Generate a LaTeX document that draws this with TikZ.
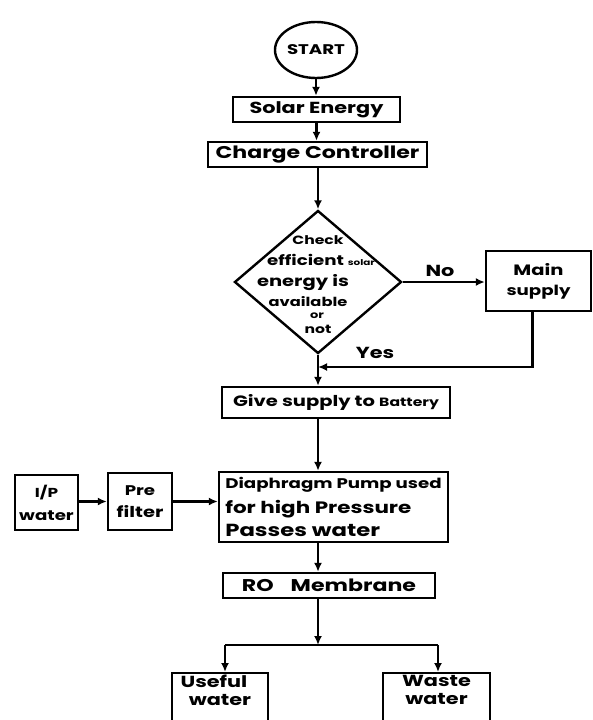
\documentclass[tikz,border=0pt]{standalone}
\usepackage{fontspec}
\setmainfont{Poppins}[FakeStretch=1.3]
\usetikzlibrary{shapes.geometric,arrows.meta}
\newcommand{\fs}[1]{\fontsize{#1}{#1}\selectfont\bfseries}
\begin{document}
\begin{tikzpicture}[x=1pt,y=-1pt,
  line width=2.4pt,
  box/.style={draw,rectangle,inner sep=0pt,line width=2.4pt},
  arr/.style={-{Latex[length=9pt,width=8pt]}},
  lbl/.style={inner sep=0pt}]
\useasboundingbox (0,0) rectangle (592,720);
\clip (0,0) rectangle (592,720);
\fill[white] (0,0) rectangle (592,720);
% nodes
\node[draw,ellipse,minimum width=68pt,minimum height=56pt,inner sep=0pt,font=\fs{14}] (start) at (316,50) {START};
\node[box,minimum width=167pt,minimum height=25pt,font=\fs{16}] (solar) at (316.5,109.5) {Solar Energy};
\node[box,minimum width=219pt,minimum height=25pt,font=\fs{17}] (charge) at (317.5,154.5) {Charge Controller};
\node[draw,diamond,minimum width=167pt,minimum height=143pt,inner sep=0pt] (dia) at (318,282) {};
\node[lbl,font=\fs{12}] (d1) at (318,240) {Check};
\node[lbl,font=\fs{14}] (d2) at (321,260) {efficient {\fs{8}solar}};
\node[lbl,font=\fs{15}] (d3) at (303,283) {energy is};
\node[lbl,font=\fs{12.5}] (d4) at (308,302) {available};
\node[lbl,font=\fs{10}] (d5) at (317,316) {or};
\node[lbl,font=\fs{12}] (d6) at (318,329) {not};
\node[box,minimum width=105pt,minimum height=60pt,align=center] (main) at (538.5,281) {{\fs{15}Main}\\[8pt]{\fs{14}supply}};
\node[lbl,font=\fs{16}] (no) at (440,271) {No};
\node[lbl,font=\fs{16}] (yes) at (375,353) {Yes};
\node[box,minimum width=228pt,minimum height=31pt,font=\fs{15}] (battery) at (336,402.5) {Give supply to {\fs{12}Battery}};
\node[box,minimum width=229pt,minimum height=70pt,align=left] (pump) at (333.5,507) {{\fs{14}Diaphragm Pump used}\\[7pt]{\fs{16.5}for high Pressure}\\[6pt]{\fs{17.5}Passes water}};
\node[box,minimum width=63pt,minimum height=55pt,align=center] (ip) at (46.5,502.5) {{\fs{13}I/P}\\[10pt]{\fs{14}water}};
\node[box,minimum width=64pt,minimum height=57pt,align=center] (pre) at (140,501.5) {{\fs{14}Pre}\\[9pt]{\fs{15}filter}};
\node[box,minimum width=212pt,minimum height=25pt,font=\fs{17}] (ro) at (329,585.5) {RO\quad Membrane};
\node[box,minimum width=96pt,minimum height=64pt,align=center,anchor=north,font=\fs{16}] (useful) at (220,672) {Useful\hspace*{12pt}\\[2pt]water\hspace*{12pt}\\[14pt]\mbox{}};
\node[box,minimum width=107pt,minimum height=64pt,align=center,anchor=north,font=\fs{16}] (waste) at (436.5,672) {Waste\\[2pt]water\\[14pt]\mbox{}};
% coordinates
\coordinate (j) at (318,367);
\coordinate (s) at (318,645);
\coordinate (sl) at (225,645);
\coordinate (sr) at (438,645);
% connectors
\draw[arr] (start.south) -- (solar.north -| start.south);
\draw[arr] (solar.south) -- (solar.south |- charge.north);
\draw[arr] (charge.south -| dia.north) -- (dia.north);
\draw[arr] (dia.east) -- (dia.east -| main.west);
\draw[arr] ([xshift=-6pt]main.south) |- (j);
\draw[arr] (dia.south) -- (dia.south |- battery.north);
\draw[arr] (battery.south -| dia.south) -- (pump.north -| dia.south);
\draw[arr] (ip.east |- pre.west) -- (pre.west);
\draw[arr] (pre.east) -- (pre.east -| pump.west);
\draw[arr] (pump.south -| dia.south) -- (ro.north -| dia.south);
\draw[arr] (ro.south -| dia.south) -- (s);
\draw (sl) -- (sr);
\draw[arr] (sl) -- (sl |- useful.north);
\draw[arr] (sr) -- (sr |- waste.north);
\end{tikzpicture}
\end{document}
